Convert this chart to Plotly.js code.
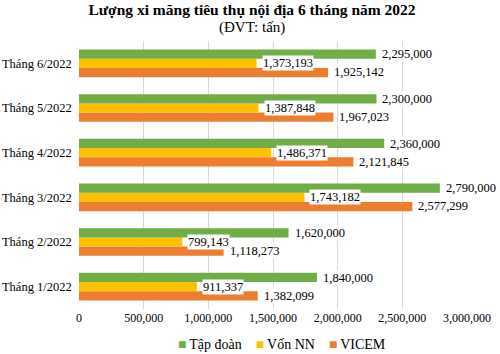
<!DOCTYPE html>
<html>
<head>
<meta charset="utf-8">
<script src="https://cdn.plot.ly/plotly-3.0.1.min.js"></script>
<style>html,body{margin:0;padding:0;background:#fff;}#chart{width:500px;height:354px;}</style>
</head>
<body>
<div id="chart"></div>
<script>
var categories = ['Tháng 1/2022', 'Tháng 2/2022', 'Tháng 3/2022', 'Tháng 4/2022', 'Tháng 5/2022', 'Tháng 6/2022'];
var tapDoan = [1840000, 1620000, 2790000, 2360000, 2300000, 2295000];
var vonNN = [911337, 799143, 1743182, 1486371, 1387848, 1373193];
var vicem = [1382099, 1118273, 2577299, 2121845, 1967023, 1925142];
var xTicks = [0, 500000, 1000000, 1500000, 2000000, 2500000, 3000000];

var FONT = 'Liberation Serif, Times New Roman, serif';
function fmt(v) { return v.toLocaleString('en-US'); }

var series = [
  {name: 'VICEM', values: vicem, color: '#ED7D31', off: -0.2},
  {name: 'Vốn NN', values: vonNN, color: '#FFC000', off: 0},
  {name: 'Tập đoàn', values: tapDoan, color: '#70AD47', off: 0.2}
];

var traces = series.map(function (s) {
  return {
    type: 'bar', orientation: 'h', name: s.name,
    x: s.values, y: categories,
    marker: {color: s.color},
    hoverinfo: 'x+name'
  };
});

var annotations = [];
series.forEach(function (s) {
  s.values.forEach(function (v, i) {
    annotations.push({
      x: v, y: i + s.off, xref: 'x', yref: 'y',
      text: fmt(v), showarrow: false, xanchor: 'left', yanchor: 'middle',
      xshift: 5, bgcolor: '#ffffff', borderpad: 0,
      font: {family: FONT, size: 12.5, color: '#000'}
    });
  });
});
// subtitle
annotations.push({
  x: 0.446, y: 1.052, xref: 'paper', yref: 'paper', xanchor: 'center', yanchor: 'middle',
  text: '(ĐVT: tấn)', showarrow: false,
  font: {family: FONT, size: 15, color: '#000'}
});
// legend (built from the series, in reversed order)
var legendParts = series.slice().reverse().map(function (s) {
  return '<span style="color:' + s.color + '">■</span>&#8201;' + s.name;
});
annotations.push({
  x: 0.523, y: -0.134, xref: 'paper', yref: 'paper', xanchor: 'center', yanchor: 'middle',
  text: legendParts.join('&nbsp;&nbsp;&nbsp;&nbsp;'), showarrow: false,
  font: {family: FONT, size: 14, color: '#000'}
});

var layout = {
  width: 500, height: 354,
  margin: {l: 79, r: 33, t: 41, b: 45},
  paper_bgcolor: '#fff', plot_bgcolor: '#fff',
  barmode: 'group', bargap: 0.38, bargroupgap: 0,
  title: {
    text: '<b>Lượng xi măng tiêu thụ nội địa 6 tháng năm 2022</b>',
    font: {family: FONT, size: 15.5, color: '#000'},
    x: 0.504, xref: 'container', xanchor: 'center',
    y: 0.972, yref: 'container', yanchor: 'middle'
  },
  xaxis: {
    range: [0, 3000000], tickvals: xTicks, ticktext: xTicks.map(fmt),
    showgrid: true, gridcolor: '#d9d9d9', gridwidth: 1, zeroline: false,
    showline: false, ticks: '', fixedrange: true,
    tickfont: {family: FONT, size: 12, color: '#000'}
  },
  yaxis: {
    type: 'category', showgrid: false, zeroline: false, showline: false, ticks: '',
    ticksuffix: '  ',
    tickfont: {family: FONT, size: 12.5, color: '#000'}
  },
  showlegend: false,
  annotations: annotations
};

Plotly.newPlot('chart', traces, layout, {displayModeBar: false, staticPlot: true});
</script>
</body>
</html>
